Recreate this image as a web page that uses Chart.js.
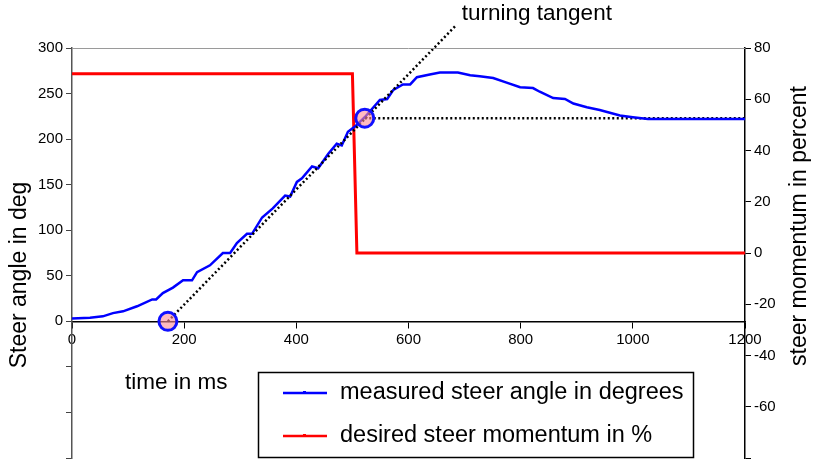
<!DOCTYPE html>
<html>
<head>
<meta charset="utf-8">
<script src="https://cdn.jsdelivr.net/npm/chart.js@4/dist/chart.umd.min.js"></script>
<style>
  body { margin: 0; background: #fff; }
  #wrap { width: 813px; height: 462px; }
</style>
</head>
<body>
<div id="wrap"><canvas id="chartSteer" width="813" height="462"></canvas></div>
<script>
// measured steer angle (deg) over time (ms)
const steerTime = [0, 32, 55, 73, 91, 116, 143, 150, 162, 180, 198, 214, 223, 246, 269, 282, 294, 312, 321, 339, 358, 380, 389, 401, 410, 428, 439, 457, 472, 481, 492, 505, 522, 549, 562, 573, 590, 603, 615, 638, 656, 688, 710, 727, 751, 775, 799, 822, 834, 858, 879, 894, 918, 941, 959, 977, 1000, 1027, 1200];
const steerAngle = [3, 4, 5.5, 9, 11, 16.5, 24, 24, 31, 37, 45, 45, 54, 61.5, 75, 75, 86, 96, 96, 114, 124, 138, 137, 153, 157, 170, 168, 184, 195, 193, 208, 214, 224, 243, 244, 254, 260, 260, 268, 271, 273, 273, 270, 269, 267, 262, 257, 256, 252, 245, 244, 239, 235, 232, 229, 226, 224, 222, 222];

// desired steer momentum (%)
const momentumTime = [0, 500, 508, 1200];
const momentumPercent = [70, 70, 0, 0];

// turning tangent and its level line
const tangentTime = [171, 685];
const tangentAngle = [0, 325];
const levelTime = [522, 1200];
const levelAngle = [223, 223];
const markTime = [171, 522];
const markAngle = [0, 223];

const seriesLabels = ["measured steer angle in degrees", "desired steer momentum in %"];

const FONT = "'Liberation Sans', Arial, sans-serif";
const PLOT_BOTTOM = 458;
const pts = (xs, ys) => xs.map((x, i) => ({ x: x, y: ys[i] }));

// chart area stretches nearly to the bottom edge, like the original
const stretchArea = {
  id: "stretchArea",
  afterLayout(chart) {
    const area = chart.chartArea;
    area.bottom = PLOT_BOTTOM;
    area.height = PLOT_BOTTOM - area.top;
    ["y", "y2"].forEach((id) => {
      const s = chart.scales[id];
      s.bottom = PLOT_BOTTOM;
      s.height = PLOT_BOTTOM - s.top;
      s.configure();
    });
    const x = chart.scales.x;
    x.bottom = PLOT_BOTTOM;
  }
};

const overlay = {
  id: "overlay",
  afterDraw(chart) {
    const { ctx, chartArea: a, scales } = chart;
    ctx.save();
    // top frame line
    ctx.strokeStyle = "#9a9a9a";
    ctx.lineWidth = 1;
    ctx.beginPath();
    ctx.moveTo(a.left, a.top + 0.5);
    ctx.lineTo(a.right, a.top + 0.5);
    ctx.stroke();

    ctx.fillStyle = "#000";
    ctx.font = "23px " + FONT;
    ctx.textAlign = "center";
    ctx.textBaseline = "middle";
    // axis titles
    ctx.save();
    ctx.translate(20, 275);
    ctx.rotate(-Math.PI / 2);
    ctx.fillText("Steer angle in deg", 0, 0);
    ctx.restore();
    ctx.save();
    ctx.translate(800, 226);
    ctx.rotate(-Math.PI / 2);
    ctx.fillText("steer momentum in percent", 0, 0);
    ctx.restore();

    ctx.textAlign = "left";
    ctx.textBaseline = "alphabetic";
    ctx.font = "22.5px " + FONT;
    ctx.fillText("time in ms", 125, 389);
    ctx.fillText("turning tangent", scales.x.getPixelForValue(695), scales.y.getPixelForValue(331));

    // legend box
    ctx.fillStyle = "#fff";
    ctx.fillRect(258, 372, 435, 85);
    ctx.strokeStyle = "#000";
    ctx.lineWidth = 1.5;
    ctx.strokeRect(258.5, 372.5, 435, 85);
    ctx.font = "23.5px " + FONT;
    const colors = ["#0000ff", "#ff0000"];
    const rows = [393, 436];
    rows.forEach((yy, i) => {
      ctx.strokeStyle = colors[i];
      ctx.lineWidth = 2.5;
      ctx.beginPath();
      ctx.moveTo(283, yy);
      ctx.lineTo(327, yy);
      ctx.stroke();
      ctx.fillStyle = colors[i];
      ctx.fillRect(303, yy - 2, 3, 3);
      ctx.fillStyle = "#000";
      ctx.textBaseline = "middle";
      ctx.fillText(seriesLabels[i], 340, yy);
    });
    ctx.restore();
  }
};

new Chart(document.getElementById("chartSteer").getContext("2d"), {
  type: "line",
  plugins: [stretchArea, overlay],
  data: {
    datasets: [
      {
        label: "turning points",
        data: pts(markTime, markAngle),
        showLine: false,
        pointRadius: 9,
        pointBorderWidth: 3,
        pointBorderColor: "#1010ff",
        pointBackgroundColor: "rgba(255, 140, 150, 0.6)",
        yAxisID: "y",
        order: 0,
      },
      {
        label: "tangent",
        data: pts(tangentTime, tangentAngle),
        borderColor: "#000",
        borderWidth: 2.5,
        borderDash: [2, 2.5],
        pointRadius: 0,
        clip: false,
        yAxisID: "y",
        order: 1,
      },
      {
        label: "level",
        data: pts(levelTime, levelAngle),
        borderColor: "#000",
        borderWidth: 2.5,
        borderDash: [2, 2.5],
        pointRadius: 0,
        yAxisID: "y",
        order: 3,
      },
      {
        label: seriesLabels[0],
        data: pts(steerTime, steerAngle),
        borderColor: "#0000ff",
        borderWidth: 2.5,
        pointRadius: 0,
        tension: 0,
        yAxisID: "y",
        order: 2,
      },
      {
        label: seriesLabels[1],
        data: pts(momentumTime, momentumPercent),
        borderColor: "#ff0000",
        borderWidth: 3,
        pointRadius: 0,
        tension: 0,
        yAxisID: "y2",
        order: 4,
      },
    ],
  },
  options: {
    responsive: false,
    animation: false,
    layout: { padding: { left: 0, right: 0, top: 48, bottom: 4 } },
    plugins: {
      legend: { display: false },
      tooltip: { enabled: false },
    },
    scales: {
      x: {
        type: "linear",
        min: 0,
        max: 1200,
        position: { y: 0 },
        ticks: {
          stepSize: 200,
          color: "#000",
          font: { family: FONT, size: 15 },
          padding: 4,
          maxRotation: 0,
          callback: (v) => String(v),
        },
        grid: { drawOnChartArea: false, tickLength: 6, color: "#000" },
        border: { color: "#000", width: 1.5 },
      },
      y: {
        position: "left",
        min: -150,
        max: 300,
        ticks: {
          stepSize: 50,
          color: "#000",
          font: { family: FONT, size: 15 },
          padding: 3,
          callback: (v) => (v < 0 ? "" : String(v)),
        },
        grid: { drawOnChartArea: false, tickLength: 6, color: "#444" },
        border: { color: "#555", width: 1.5 },
        afterFit(s) { s.width = 72; },
      },
      y2: {
        position: "right",
        min: -80,
        max: 80,
        ticks: {
          stepSize: 20,
          color: "#000",
          font: { family: FONT, size: 15 },
          padding: 3,
          callback: (v) => (v === -80 ? "" : String(v)),
        },
        grid: { drawOnChartArea: false, tickLength: 6, color: "#000" },
        border: { color: "#000", width: 1.5 },
        afterFit(s) { s.width = 68; },
      },
    },
  },
});
</script>
</body>
</html>
